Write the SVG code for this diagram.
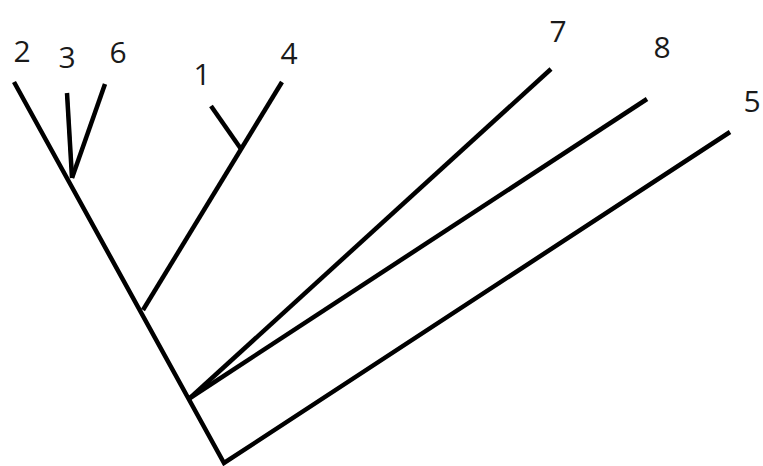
<svg xmlns="http://www.w3.org/2000/svg" width="763" height="466" viewBox="0 0 763 466">
<style>
.br{stroke:#000;stroke-width:4.5;fill:none;stroke-linecap:butt;stroke-linejoin:miter}
.lb{font-family:"Open Sans","Noto Sans","Liberation Sans",sans-serif;font-size:30px;fill:#1a1a1a;text-anchor:middle}
</style>
<rect width="763" height="466" fill="#fff"/>
<g id="connectors">
<path class="br" d="M14,82 L224,463 L730,132"/>
<path class="br" d="M67,93 L72,178"/>
<path class="br" d="M105,84 L72,178"/>
<path class="br" d="M282,82 L143,310"/>
<path class="br" d="M211,106 L241,149"/>
<path class="br" d="M551,69 L190,398"/>
<path class="br" d="M647,99 L190,398"/>
</g>
<g id="node-2"><text class="lb" x="22" y="62">2</text></g>
<g id="node-3"><text class="lb" x="67" y="68">3</text></g>
<g id="node-6"><text class="lb" x="118" y="63">6</text></g>
<g id="node-1"><text class="lb" x="202" y="85">1</text></g>
<g id="node-4"><text class="lb" x="289" y="64">4</text></g>
<g id="node-7"><text class="lb" x="558" y="42">7</text></g>
<g id="node-8"><text class="lb" x="662" y="58">8</text></g>
<g id="node-5"><text class="lb" x="752" y="112">5</text></g>
</svg>
